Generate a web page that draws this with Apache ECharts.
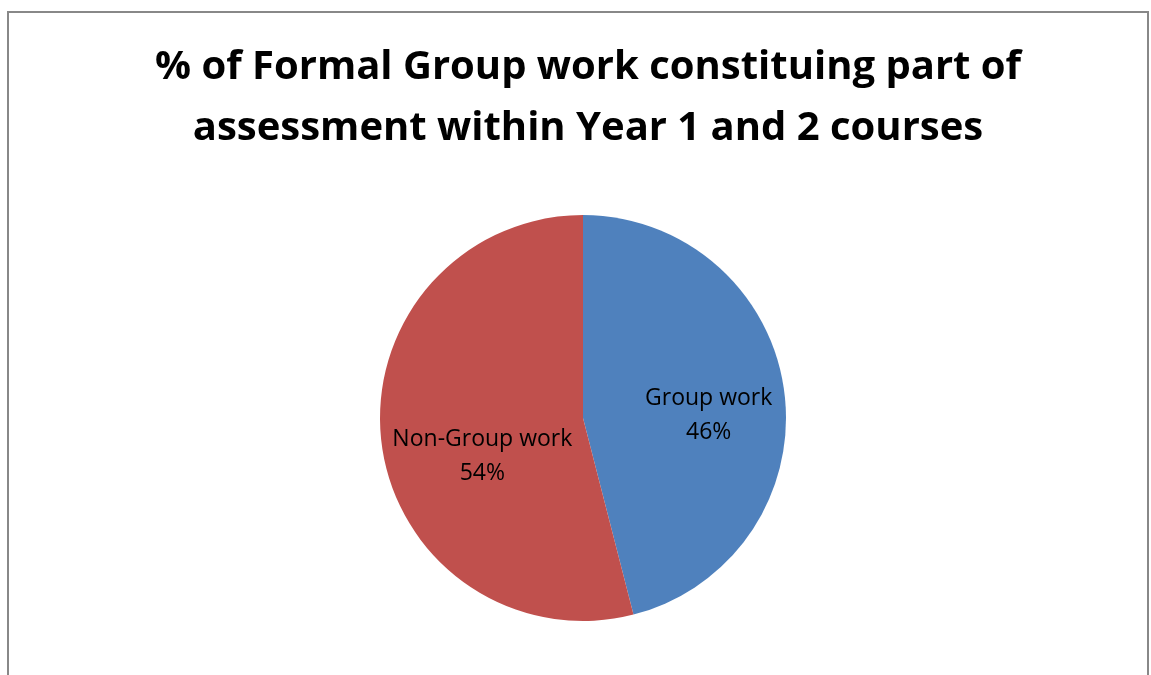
<!DOCTYPE html>
<html><head><meta charset="utf-8">
<script src="https://cdn.jsdelivr.net/npm/echarts@6/dist/echarts.min.js"></script>
<style>html,body{margin:0;padding:0;background:#fff}#c{width:1151px;height:675px}</style>
</head><body><div id="c"></div>
<script>
const titleLines = ['% of Formal Group work constituing part of', 'assessment within Year 1 and 2 courses'];
const categories = ['Group work', 'Non-Group work'];
const values = [46, 54];
const colors = ['#4F81BD', '#C0504D'];
const labelShift = [[22, 11], [3, 25]];

const chart = echarts.init(document.getElementById('c'));
chart.setOption({
  backgroundColor: '#fff',
  graphic: [{
    type: 'polyline', silent: true,
    shape: { points: [[8, 700], [8, 12], [1148, 12], [1148, 700]] },
    style: { stroke: '#888', lineWidth: 2, fill: null }
  }],
  title: {
    text: titleLines.join('\n'),
    left: 583, top: 32, textAlign: 'center',
    textStyle: { fontFamily: 'Open Sans', fontWeight: 'bold', fontSize: 40, lineHeight: 61, color: '#000' }
  },
  series: [{
    type: 'pie',
    center: [583, 418],
    radius: 203,
    startAngle: 90,
    clockwise: true,
    animation: false,
    label: {
      show: true, position: 'inside',
      formatter: p => p.name + '\n' + p.value + '%',
      fontFamily: 'Open Sans', fontSize: 23, lineHeight: 34, color: '#000'
    },
    labelLayout: p => ({ dx: labelShift[p.dataIndex][0], dy: labelShift[p.dataIndex][1] }),
    itemStyle: { borderColor: '#fff', borderWidth: 0 },
    emphasis: { disabled: true },
    data: categories.map((c, i) => ({ name: c, value: values[i], itemStyle: { color: colors[i] } }))
  }]
});
</script></body></html>
